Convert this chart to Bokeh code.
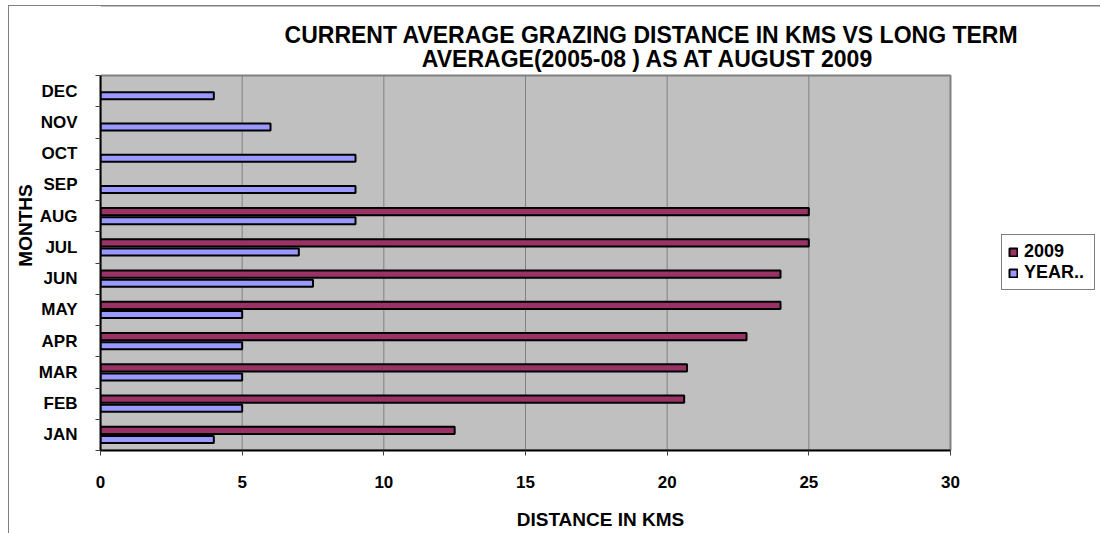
from bokeh.plotting import figure
from bokeh.models import (ColumnDataSource, FixedTicker, Legend, LegendItem, Label, Span,
                          Range1d, CustomJSTickFormatter)
from bokeh.embed import file_html
from bokeh.resources import INLINE

# ---------------- data ----------------
months = ["JAN", "FEB", "MAR", "APR", "MAY", "JUN", "JUL", "AUG", "SEP", "OCT", "NOV", "DEC"]
kms_2009 = [12.5, 20.6, 20.7, 22.8, 24.0, 24.0, 25.0, 25.0, None, None, None, None]
kms_long_term = [4.0, 5.0, 5.0, 5.0, 5.0, 7.5, 7.0, 9.0, 9.0, 9.0, 6.0, 4.0]
series_names = ["2009", "YEAR.."]
x_ticks = [0, 5, 10, 15, 20, 25, 30]
title_lines = ["CURRENT AVERAGE GRAZING DISTANCE IN KMS VS LONG TERM",
               "AVERAGE(2005-08 ) AS AT AUGUST  2009"]
x_title = "DISTANCE IN KMS"
y_title = "MONTHS"

# ---------------- styles / geometry ----------------
FONT = "Liberation Sans"
C2009 = "#993366"
CLT = "#9999FF"
BAR_OFF = 0.145
BAR_H = 0.226
n = len(months)
x_max = x_ticks[-1]

W, H = 1100, 533
LEFT, BOTTOM = 100, 83           # space for the axes
AREA_W, AREA_H = 850, 375        # size of the grey plot area in px
PXX = AREA_W / x_max             # px per km
PXY = AREA_H / n                 # px per month band
frame_w, frame_h = W - LEFT, H - BOTTOM

def dx(px):   # canvas px -> data x
    return (px - LEFT) / PXX
def dy(py):   # canvas px -> data y
    return (frame_h - py) / PXY

src_a = ColumnDataSource(dict(
    y=[i + 0.5 + BAR_OFF for i, v in enumerate(kms_2009) if v is not None],
    right=[v for v in kms_2009 if v is not None]))
src_b = ColumnDataSource(dict(
    y=[i + 0.5 - BAR_OFF for i in range(n)],
    right=kms_long_term))

p = figure(width=W, height=H, output_backend="svg", toolbar_location=None,
           x_range=Range1d(0, frame_w / PXX), y_range=Range1d(0, frame_h / PXY),
           min_border_left=LEFT, min_border_right=0, min_border_top=0, min_border_bottom=BOTTOM,
           background_fill_color=None, border_fill_color=None)
p.styles = {"background": "linear-gradient(#808080,#808080) 8px 5px / 1px calc(100% - 5px) no-repeat, "
                          "linear-gradient(#808080,#808080) 8px 5px / calc(100% - 8px) 1px no-repeat, "
                          "white"}
p.outline_line_color = None
p.xgrid.grid_line_color = None
p.ygrid.grid_line_color = None

# chart-area border line across the top
p.add_layout(Span(location=dy(5.5), dimension="width", line_color="#808080", line_width=1))

# grey plot area and vertical gridlines
p.quad(left=0, right=x_max, bottom=0, top=n, fill_color="#C0C0C0",
       line_color="#808080", line_width=2)
p.segment(x0=x_ticks[1:-1], x1=x_ticks[1:-1], y0=0, y1=n, line_color="#808080", line_width=1)

r_a = p.hbar(y="y", left=0, right="right", height=BAR_H, source=src_a,
             fill_color=C2009, line_color="black", line_width=2)
r_b = p.hbar(y="y", left=0, right="right", height=BAR_H, source=src_b,
             fill_color=CLT, line_color="black", line_width=2)

# x axis
p.xaxis.bounds = (0, x_max)
p.xaxis.ticker = FixedTicker(ticks=x_ticks)
p.xaxis.minor_tick_line_color = None
p.xaxis.major_tick_out = 5
p.xaxis.major_tick_in = 0
p.xaxis.major_tick_line_color = "#404040"
p.xaxis.axis_line_color = "black"
p.xaxis.axis_line_width = 2
p.xaxis.major_label_text_font = FONT
p.xaxis.major_label_text_font_style = "bold"
p.xaxis.major_label_text_font_size = "17px"
p.xaxis.major_label_text_color = "black"
p.xaxis.major_label_standoff = 20
p.xaxis.axis_label = x_title
p.xaxis.axis_label_text_font = FONT
p.xaxis.axis_label_text_font_style = "bold"
p.xaxis.axis_label_text_font_size = "19px"
p.xaxis.axis_label_text_color = "black"
p.xaxis.axis_label_standoff = 18

# y axis
p.yaxis.bounds = (0, n)
p.yaxis.ticker = FixedTicker(ticks=[i + 0.5 for i in range(n)],
                             minor_ticks=list(range(n + 1)))
p.yaxis.formatter = CustomJSTickFormatter(args=dict(labels=months),
                                          code="return labels[Math.floor(tick)] || '';")
p.yaxis.major_tick_out = 0
p.yaxis.major_tick_in = 0
p.yaxis.minor_tick_out = 5
p.yaxis.minor_tick_in = 0
p.yaxis.minor_tick_line_color = "#404040"
p.yaxis.axis_line_color = "black"
p.yaxis.axis_line_width = 2
p.yaxis.major_label_text_font = FONT
p.yaxis.major_label_text_font_style = "bold"
p.yaxis.major_label_text_font_size = "17px"
p.yaxis.major_label_text_color = "black"
p.yaxis.major_label_standoff = 18
p.yaxis.axis_label = y_title
p.yaxis.axis_label_text_font = FONT
p.yaxis.axis_label_text_font_style = "bold"
p.yaxis.axis_label_text_font_size = "19px"
p.yaxis.axis_label_text_color = "black"
p.yaxis.axis_label_standoff = 0

# chart title (inside the frame, above the grey area)
for line, py in zip(title_lines, [34, 58]):
    p.add_layout(Label(x=dx(651), y=dy(py), text=line, text_align="center",
                       text_baseline="middle", text_font=FONT, text_font_style="bold",
                       text_font_size="23px", text_color="black"))

legend = Legend(items=[LegendItem(label=series_names[0], renderers=[r_a]),
                       LegendItem(label=series_names[1], renderers=[r_b])],
                location=(901, 160), orientation="vertical",
                label_text_font=FONT, label_text_font_style="bold",
                label_text_font_size="18px", label_text_color="black",
                glyph_width=10, glyph_height=10, label_height=14, label_width=64,
                label_standoff=6, padding=6, spacing=0, margin=0,
                border_line_color="black", border_line_width=1,
                background_fill_color="white", background_fill_alpha=1)
p.add_layout(legend, "center")

open("out.html", "w").write(file_html(p, INLINE))
